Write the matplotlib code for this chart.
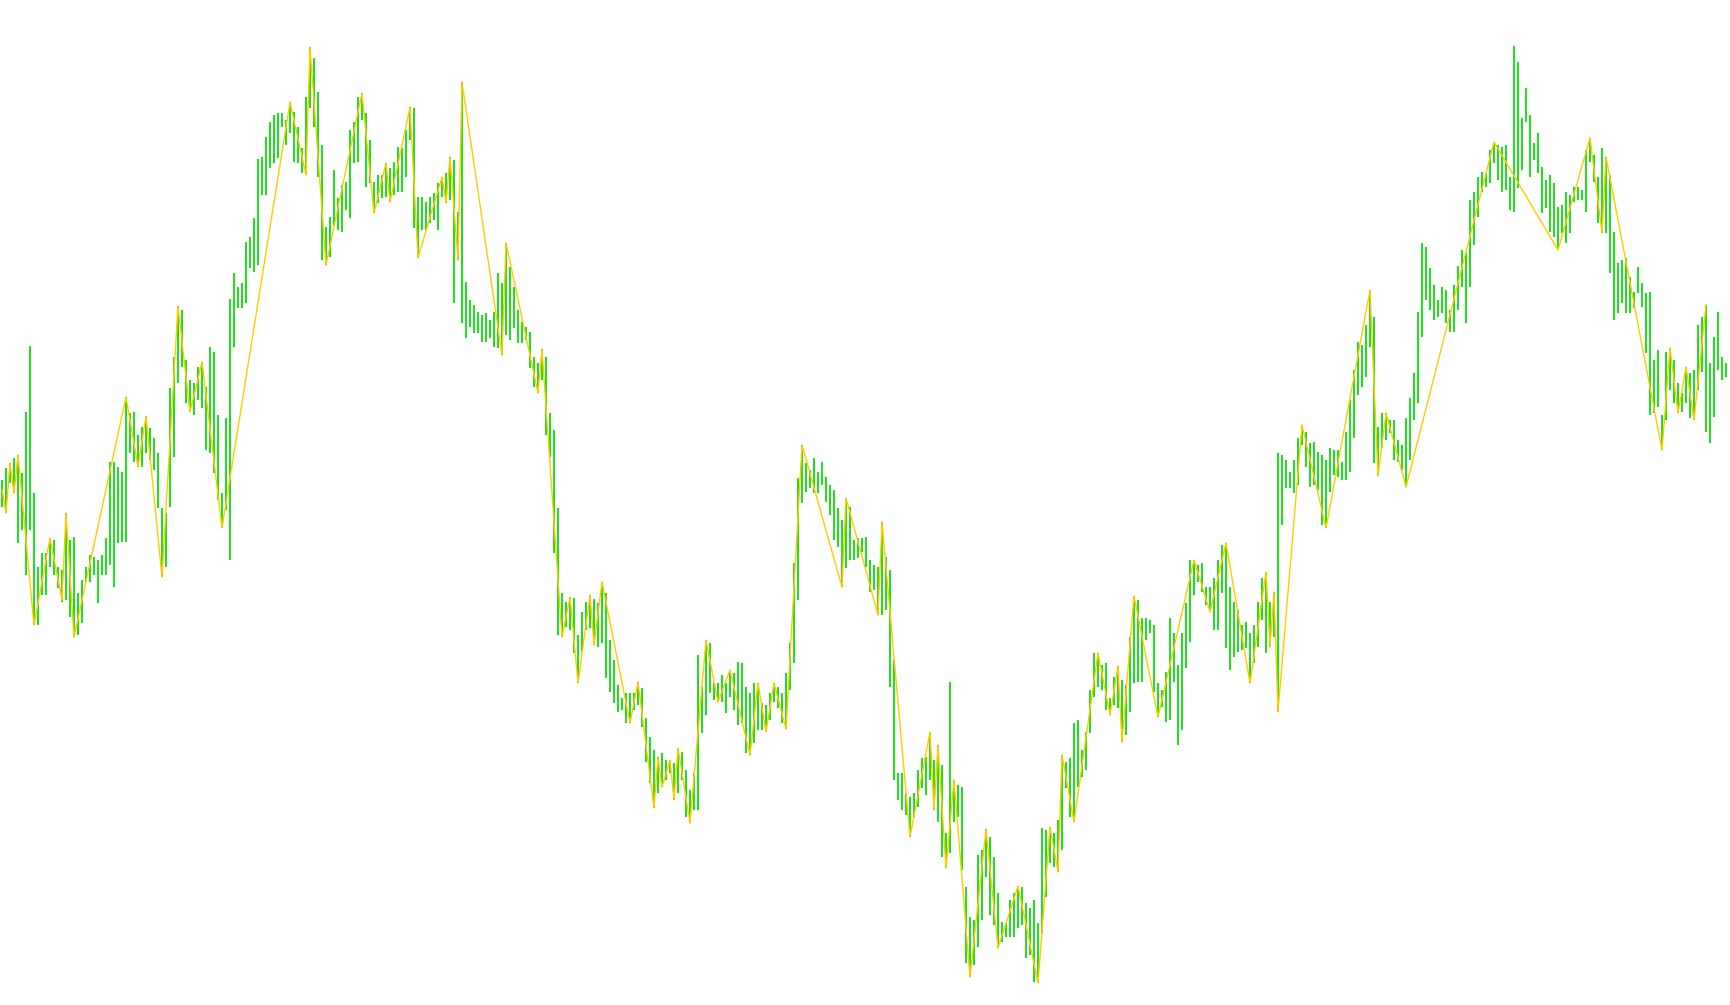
import numpy as np
import matplotlib
matplotlib.use("Agg")
import matplotlib.pyplot as plt

# ==========================================================
# Dados: barras (máxima / mínima) em pips abaixo do preço de referência
# ==========================================================
ref_price = 1.3600
pip = 0.0001

high_pips = [
    480, 468, 463, 458, 455, 473, 412, 346, 493, 567,
    553, 553, 538, 540, 567, 570, 513, 540, 537, 593,
    580, 567, 555, 557, 560, 555, 538, 462, 462, 467,
    472, 397, 413, 412, 435, 427, 416, 428, 438, 453,
    508, 513, 388, 357, 306, 310, 360, 380, 383, 367,
    362, 387, 347, 352, 415, 493, 418, 299, 273, 287,
    283, 242, 237, 218, 159, 157, 137, 122, 115, 113,
    113, 120, 102, 112, 127, 148, 97, 47, 58, 92,
    145, 227, 217, 170, 198, 185, 182, 130, 122, 97,
    93, 113, 140, 182, 175, 175, 163, 168, 162, 147,
    148, 130, 107, 108, 197, 197, 202, 197, 193, 183,
    177, 173, 157, 160, 212, 82, 282, 300, 305, 312,
    315, 313, 320, 312, 273, 283, 243, 267, 287, 310,
    322, 327, 332, 357, 363, 349, 357, 413, 430, 508,
    593, 602, 597, 598, 635, 612, 602, 595, 599, 603,
    582, 593, 640, 660, 685, 698, 693, 693, 693, 682,
    688, 718, 737, 750, 757, 753, 760, 760, 763, 748,
    752, 770, 790, 773, 655, 687, 640, 643, 683, 683,
    675, 683, 670, 673, 662, 663, 687, 693, 683, 683,
    703, 705, 693, 683, 687, 693, 673, 643, 563, 478,
    445, 463, 470, 458, 472, 462, 477, 485, 490, 508,
    520, 498, 507, 540, 538, 538, 537, 560, 565, 567,
    522, 557, 570, 660, 773, 773, 793, 797, 793, 770,
    758, 757, 732, 760, 745, 765, 833, 682, 780, 785,
    787, 887, 917, 920, 855, 850, 829, 837, 857, 893,
    922, 923, 900, 893, 886, 887, 903, 908, 900, 923,
    828, 830, 827, 833, 820, 755, 762, 758, 723, 720,
    750, 732, 690, 653, 653, 665, 663, 698, 677, 666,
    680, 685, 637, 596, 600, 618, 618, 620, 625, 683,
    690, 672, 618, 633, 665, 633, 603, 560, 560, 565,
    563, 587, 587, 578, 560, 545, 543, 587, 602, 610,
    625, 622, 633, 625, 602, 578, 572, 602, 592, 453,
    455, 460, 472, 460, 438, 425, 432, 443, 442, 452,
    455, 460, 448, 450, 450, 462, 432, 400, 370, 342,
    345, 325, 290, 317, 427, 413, 413, 420, 420, 440,
    445, 418, 398, 373, 312, 243, 247, 268, 285, 300,
    287, 290, 310, 285, 266, 250, 253, 200, 192, 177,
    172, 173, 150, 142, 145, 147, 145, 177, 46, 62,
    118, 88, 115, 143, 133, 167, 180, 175, 183, 207,
    205, 192, 195, 187, 187, 190, 150, 138, 155, 177,
    148, 157, 175, 232, 263, 260, 258, 277, 292, 267,
    283, 293, 292, 360, 350, 415, 352, 348, 360, 383,
    393, 367, 373, 370, 325, 317, 305, 363, 337, 312,
    357, 363,
]

low_pips = [
    507, 513, 483, 493, 543, 530, 575, 530, 625, 625,
    595, 595, 567, 575, 588, 602, 600, 617, 637, 635,
    623, 582, 582, 575, 603, 575, 575, 565, 587, 543,
    542, 542, 453, 462, 467, 467, 453, 460, 470, 508,
    577, 567, 507, 457, 383, 367, 403, 412, 415, 400,
    408, 450, 453, 473, 500, 528, 510, 560, 347, 308,
    308, 303, 268, 272, 265, 195, 195, 168, 163, 158,
    127, 145, 133, 162, 163, 173, 175, 108, 127, 177,
    260, 265, 257, 225, 230, 232, 210, 218, 163, 162,
    120, 187, 183, 213, 203, 198, 197, 202, 195, 192,
    192, 177, 140, 228, 258, 230, 230, 223, 220, 230,
    197, 203, 200, 303, 260, 323, 338, 327, 333, 333,
    342, 342, 338, 347, 348, 355, 335, 340, 328, 343,
    343, 340, 368, 387, 393, 380, 435, 457, 553, 635,
    637, 627, 630, 653, 683, 652, 630, 628, 645, 647,
    643, 678, 692, 703, 712, 710, 723, 723, 710, 705,
    727, 762, 783, 808, 793, 787, 780, 773, 800, 793,
    780, 817, 823, 810, 810, 733, 715, 693, 700, 702,
    702, 713, 697, 710, 725, 723, 753, 755, 743, 730,
    730, 732, 720, 702, 708, 723, 729, 690, 663, 600,
    503, 492, 488, 493, 493, 485, 502, 515, 540, 547,
    587, 568, 560, 560, 558, 552, 567, 592, 590, 615,
    615, 610, 687, 780, 800, 810, 815, 837, 817, 807,
    788, 795, 780, 810, 822, 857, 868, 853, 822, 817,
    870, 963, 977, 965, 947, 920, 877, 915, 925, 948,
    942, 937, 937, 937, 928, 925, 958, 955, 982, 983,
    933, 897, 863, 867, 872, 850, 788, 817, 822, 787,
    777, 770, 733, 697, 687, 690, 710, 715, 705, 708,
    742, 735, 712, 683, 682, 682, 640, 633, 692, 717,
    707, 722, 720, 682, 745, 730, 668, 642, 595, 582,
    592, 605, 612, 630, 630, 593, 648, 670, 657, 652,
    650, 648, 683, 663, 647, 620, 653, 647, 637, 712,
    525, 488, 488, 493, 485, 445, 467, 487, 485, 490,
    525, 528, 492, 475, 477, 480, 480, 472, 438, 395,
    387, 377, 347, 463, 476, 448, 440, 433, 460, 462,
    470, 487, 460, 420, 403, 337, 300, 310, 320, 317,
    313, 323, 332, 332, 310, 287, 323, 287, 245, 217,
    192, 187, 183, 163, 180, 192, 190, 210, 212, 188,
    170, 122, 177, 160, 173, 213, 208, 232, 237, 250,
    233, 243, 233, 202, 200, 200, 212, 162, 182, 223,
    233, 233, 273, 320, 313, 303, 313, 313, 308, 293,
    307, 353, 415, 413, 407, 450, 420, 390, 403, 413,
    412, 403, 418, 420, 390, 372, 432, 443, 417, 370,
    380, 377,
]

# ZigZag: índice da barra do vértice e nível em pips
zz_bar = [
    0, 1, 2, 3, 4, 8, 12, 15, 16, 18, 31, 34, 36, 40, 44, 47, 50, 55, 72, 76,
    77, 81, 90, 93, 96, 97, 102, 104, 110, 111, 112, 114, 115, 125, 126, 134,
    135, 140, 142, 144, 147, 148, 150, 157, 159, 163, 164, 165, 167, 168, 169,
    172, 176, 179, 182, 187, 189, 191, 193, 196, 200, 210, 211, 219, 220, 227,
    232, 233, 234, 236, 238, 242, 246, 249, 254, 259, 262, 264, 265, 268, 274,
    277, 279, 280, 283, 289, 298, 302, 306, 312, 316, 317, 318, 319, 325, 331,
    342, 344, 346, 351, 373, 389, 397, 400, 401, 415, 417, 419, 421, 423, 426,
]
zz_pips = [
    490, 513, 463, 493, 455, 625, 538, 600, 513, 637, 397, 467, 416, 577, 306,
    412, 362, 528, 102, 175, 47, 265, 93, 213, 163, 202, 107, 258, 177, 203,
    157, 260, 82, 355, 243, 393, 349, 637, 597, 683, 595, 645, 582, 723, 682,
    808, 757, 787, 760, 800, 748, 823, 640, 702, 670, 755, 683, 732, 683, 729,
    445, 587, 498, 615, 522, 837, 732, 810, 745, 868, 780, 977, 829, 948, 886,
    983, 827, 872, 755, 822, 653, 715, 666, 742, 596, 717, 560, 612, 543, 683,
    572, 647, 592, 712, 425, 528, 290, 476, 413, 487, 142, 250, 138, 233, 157,
    450, 348, 413, 367, 420, 305,
]

assert len(high_pips) == len(low_pips)
assert len(zz_bar) == len(zz_pips)

cor_barra = "#22DD22"
cor_zigzag = "#FFCC00"

high = ref_price - np.array(high_pips) * pip
low = ref_price - np.array(low_pips) * pip
zz = ref_price - np.array(zz_pips) * pip
barras = np.arange(len(high))

# ==========================================================
# Gráfico
# ==========================================================
fig = plt.figure(figsize=(17.30, 10.05), dpi=100)
ax = fig.add_axes([0, 0, 1, 1])
ax.vlines(barras, low, high, color=cor_barra, linewidth=1.44)
ax.plot(zz_bar, zz, color=cor_zigzag, linewidth=1.0)
ax.set_xlim(-0.5, 432.0)
ax.set_ylim(ref_price - 1005 * pip, ref_price)
ax.set_axis_off()
fig.savefig("out.png", dpi=100, facecolor="white")
